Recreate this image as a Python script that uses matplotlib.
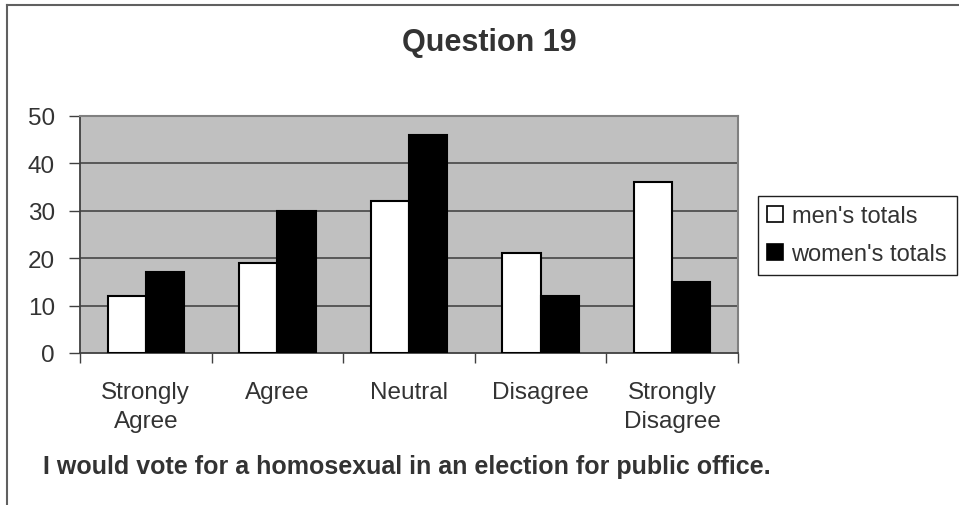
#!/usr/bin/env python3
# === Question 19 survey results: grouped bar chart ===
import numpy as np
import matplotlib
matplotlib.use("Agg")
import matplotlib.pyplot as plt
from matplotlib.patches import Patch
from matplotlib.lines import Line2D

# === Data ===
categories = ["Strongly\nAgree", "Agree", "Neutral", "Disagree", "Strongly\nDisagree"]
mens_totals = [12, 19, 32, 21, 36]
womens_totals = [17, 30, 46, 12, 15]
series_names = ["men's totals", "women's totals"]
y_ticks = [0, 10, 20, 30, 40, 50]

title = "Question 19"
statement = "I would vote for a homosexual in an election for public office."

# === Style ===
plt.rcParams['font.family'] = ['Liberation Sans', 'DejaVu Sans']
text_color = '#333333'
plot_bg = '#c0c0c0'
grid_color = '#505050'
label_size = 17.5

fig = plt.figure(figsize=(9.59, 5.06), dpi=100)
ax = fig.add_axes([80 / 959, 1 - 354 / 506, (738 - 80) / 959, (354 - 117) / 506])
ax.set_facecolor(plot_bg)

x = np.arange(len(categories))
bar_w = 0.29
ax.bar(x - bar_w / 2, mens_totals, bar_w, color='white', edgecolor='black', linewidth=1.5, zorder=3)
ax.bar(x + bar_w / 2, womens_totals, bar_w, color='black', edgecolor='black', linewidth=1.5, zorder=3)

ax.set_xlim(-0.5, len(categories) - 0.5)
ax.set_ylim(0, 50)
ax.set_yticks(y_ticks)
ax.set_yticklabels([str(v) for v in y_ticks], fontsize=label_size, color=text_color)

# category labels between boundary ticks
ax.set_xticks(np.arange(len(categories) + 1) - 0.5)
ax.set_xticklabels([])
ax.set_xticks(x, minor=True)
ax.set_xticklabels(categories, minor=True, fontsize=label_size, color=text_color, linespacing=1.45)
ax.tick_params(axis='x', which='minor', length=0, pad=20)
ax.tick_params(axis='x', which='major', length=7, width=1, color='#404040', direction='out')
ax.tick_params(axis='y', length=8, width=1, color='#404040', direction='out', pad=10)

# horizontal gridlines
for v in y_ticks[1:-1]:
    ax.axhline(v, color=grid_color, linewidth=1.3, zorder=1)

for side in ['top', 'right']:
    ax.spines[side].set_color('#808080')
    ax.spines[side].set_linewidth(1.5)
for side in ['left', 'bottom']:
    ax.spines[side].set_color('#404040')
    ax.spines[side].set_linewidth(1.3)

# legend box on the right
handles = [Patch(facecolor='white', edgecolor='black', linewidth=1.2),
           Patch(facecolor='black', edgecolor='black', linewidth=1.2)]
leg_left = 758 / 959
leg_right = 957 / 959
leg_top = 1 - 197 / 506
leg = fig.legend(handles, series_names, loc='upper left', mode='expand',
                 bbox_to_anchor=(leg_left, leg_top - 0.2, leg_right - leg_left, 0.2),
                 fontsize=17, frameon=True, fancybox=False,
                 edgecolor='#202020', framealpha=1, handlelength=0.64, handleheight=0.64,
                 handletextpad=0.38, borderpad=0.4, labelspacing=0.68, borderaxespad=0)
leg.get_frame().set_linewidth(1.0)
for t in leg.get_texts():
    t.set_color(text_color)

# titles
fig.text(489.5 / 959, 1 - 42.5 / 506, title, ha='center', va='center',
         fontsize=22, fontweight='bold', color=text_color)
fig.text(43 / 959, 1 - 467 / 506, statement, ha='left', va='center',
         fontsize=18, fontweight='bold', color=text_color)

# chart area border (top and left edges)
fig.add_artist(Line2D([7 / 959, 7 / 959], [0, 1 - 6 / 506], transform=fig.transFigure,
                      color='#606060', linewidth=1.5))
fig.add_artist(Line2D([7 / 959, 1], [1 - 6 / 506, 1 - 6 / 506], transform=fig.transFigure,
                      color='#606060', linewidth=1.5))

fig.savefig('out.png', dpi=100)
